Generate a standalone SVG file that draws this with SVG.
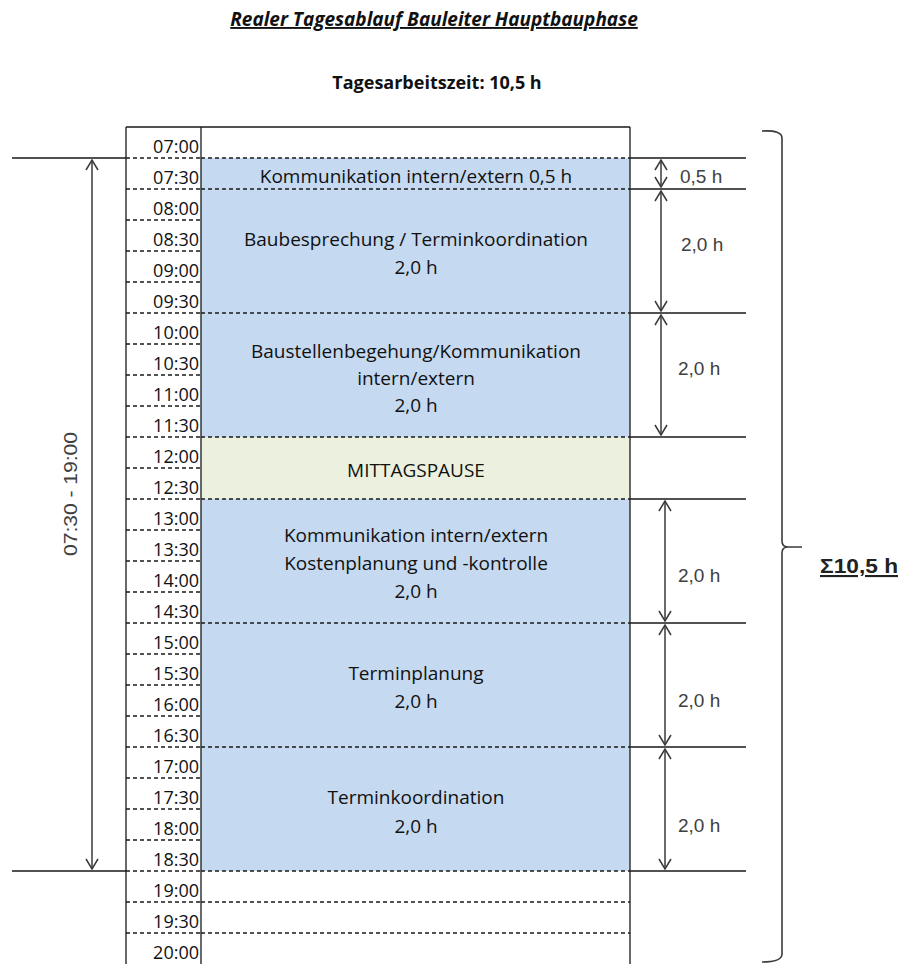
<svg xmlns="http://www.w3.org/2000/svg" width="902" height="964" viewBox="0 0 902 964">
  <defs>
    <style>
      .time { font-family: "Open Sans", "Noto Sans", sans-serif; font-size: 18px; fill: #111; text-anchor: end; }
      .cell { font-family: "Open Sans", "Noto Sans", sans-serif; font-size: 19px; fill: #111; text-anchor: middle; }
      .dim { font-family: "Liberation Sans", Arial, sans-serif; font-size: 19px; fill: #404040; }
      .grid { stroke: #1a1a1a; stroke-width: 1.3; fill: none; }
      .dash { stroke: #1a1a1a; stroke-width: 1.3; stroke-dasharray: 4 3; fill: none; }
      .ext { stroke: #1a1a1a; stroke-width: 1.3; fill: none; }
      .arrow { stroke: #3a3a3a; stroke-width: 1.5; fill: none; marker-start: url(#head); marker-end: url(#head); }
      .blue { fill: #c5d9f1; }
      .green { fill: #ebf1de; }
    </style>
    <marker id="head" viewBox="0 0 12 14" refX="11" refY="7" markerWidth="12" markerHeight="14" markerUnits="userSpaceOnUse" orient="auto-start-reverse">
      <path d="M1,1 L11,7 L1,13" fill="none" stroke="#3a3a3a" stroke-width="1.5"/>
    </marker>
  </defs>

  <rect width="902" height="964" fill="#ffffff"/>

  <!-- headings -->
  <g id="title">
    <text x="434" y="26" font-family="'Open Sans', 'Noto Sans', sans-serif" font-size="19" font-weight="bold" font-style="italic" fill="#111" text-anchor="middle" text-decoration="underline">Realer Tagesablauf Bauleiter Hauptbauphase</text>
    <text x="437" y="89" font-family="'Open Sans', 'Noto Sans', sans-serif" font-size="18" font-weight="bold" fill="#111" text-anchor="middle">Tagesarbeitszeit: 10,5 h</text>
  </g>

  <!-- activity blocks -->
  <g id="block-kommunikation-0730">
    <rect class="blue" x="201" y="158" width="429" height="31"/>
    <text class="cell" x="416" y="183">Kommunikation intern/extern 0,5 h</text>
  </g>
  <g id="block-baubesprechung">
    <rect class="blue" x="201" y="189" width="429" height="124"/>
    <text class="cell" x="416" y="246">Baubesprechung / Terminkoordination</text>
    <text class="cell" x="416" y="274">2,0 h</text>
  </g>
  <g id="block-baustellenbegehung">
    <rect class="blue" x="201" y="313" width="429" height="124"/>
    <text class="cell" x="416" y="358">Baustellenbegehung/Kommunikation</text>
    <text class="cell" x="416" y="385">intern/extern</text>
    <text class="cell" x="416" y="412">2,0 h</text>
  </g>
  <g id="block-mittagspause">
    <rect class="green" x="201" y="437" width="429" height="62"/>
    <text class="cell" x="416" y="477">MITTAGSPAUSE</text>
  </g>
  <g id="block-kostenplanung">
    <rect class="blue" x="201" y="499" width="429" height="124"/>
    <text class="cell" x="416" y="542">Kommunikation intern/extern</text>
    <text class="cell" x="416" y="570">Kostenplanung und -kontrolle</text>
    <text class="cell" x="416" y="598">2,0 h</text>
  </g>
  <g id="block-terminplanung">
    <rect class="blue" x="201" y="623" width="429" height="124"/>
    <text class="cell" x="416" y="680">Terminplanung</text>
    <text class="cell" x="416" y="708">2,0 h</text>
  </g>
  <g id="block-terminkoordination">
    <rect class="blue" x="201" y="747" width="429" height="124"/>
    <text class="cell" x="416" y="804">Terminkoordination</text>
    <text class="cell" x="416" y="833">2,0 h</text>
  </g>

  <!-- time column -->
  <g id="time-column">
    <text class="time" x="199" y="153">07:00</text>
    <text class="time" x="199" y="184">07:30</text>
    <text class="time" x="199" y="215">08:00</text>
    <text class="time" x="199" y="246">08:30</text>
    <text class="time" x="199" y="277">09:00</text>
    <text class="time" x="199" y="308">09:30</text>
    <text class="time" x="199" y="339">10:00</text>
    <text class="time" x="199" y="370">10:30</text>
    <text class="time" x="199" y="401">11:00</text>
    <text class="time" x="199" y="432">11:30</text>
    <text class="time" x="199" y="463">12:00</text>
    <text class="time" x="199" y="494">12:30</text>
    <text class="time" x="199" y="525">13:00</text>
    <text class="time" x="199" y="556">13:30</text>
    <text class="time" x="199" y="587">14:00</text>
    <text class="time" x="199" y="618">14:30</text>
    <text class="time" x="199" y="649">15:00</text>
    <text class="time" x="199" y="680">15:30</text>
    <text class="time" x="199" y="711">16:00</text>
    <text class="time" x="199" y="742">16:30</text>
    <text class="time" x="199" y="773">17:00</text>
    <text class="time" x="199" y="804">17:30</text>
    <text class="time" x="199" y="835">18:00</text>
    <text class="time" x="199" y="866">18:30</text>
    <text class="time" x="199" y="897">19:00</text>
    <text class="time" x="199" y="928">19:30</text>
    <text class="time" x="199" y="959">20:00</text>
  </g>

  <!-- table grid -->
  <g id="grid">
    <!-- half-hour separators in the time column -->
    <path class="dash" d="M126,158H201 M126,189H201 M126,220H201 M126,251H201 M126,282H201 M126,313H201 M126,344H201 M126,375H201 M126,406H201 M126,437H201 M126,468H201 M126,499H201 M126,530H201 M126,561H201 M126,592H201 M126,623H201 M126,654H201 M126,685H201 M126,716H201 M126,747H201 M126,778H201 M126,809H201 M126,840H201 M126,871H201 M126,902H201 M126,933H201"/>
    <!-- block separators across the activity column -->
    <path class="dash" d="M201,158H630 M201,189H630 M201,313H630 M201,437H630 M201,499H630 M201,623H630 M201,747H630 M201,871H630 M201,902H630 M201,933H630"/>
    <path class="grid" d="M126,127H630 M126,127V964 M201,127V964 M630,127V964"/>
  </g>

  <!-- dimension lines and arrows -->
  <g id="connectors">
    <path class="ext" d="M12,158H126 M12,871H126"/>
    <path class="ext" d="M630,158H746 M630,189H746 M630,313H746 M630,437H746 M630,499H746 M630,623H746 M630,747H746 M630,871H746"/>
    <line class="arrow" x1="92" y1="160" x2="92" y2="869"/>
    <line class="arrow" x1="661" y1="160" x2="661" y2="187"/>
    <line class="arrow" x1="661" y1="191" x2="661" y2="311"/>
    <line class="arrow" x1="661" y1="315" x2="661" y2="435"/>
    <line class="arrow" x1="665" y1="501" x2="665" y2="621"/>
    <line class="arrow" x1="665" y1="625" x2="665" y2="745"/>
    <line class="arrow" x1="665" y1="749" x2="665" y2="869"/>
    <!-- curly brace spanning the whole day -->
    <path d="M762,131 Q782,130 782,138 V541 Q782,547 788,547 H802 M788,547 Q782,547 782,553 V954 Q782,962 762,962" fill="none" stroke="#3a3a3a" stroke-width="1.6"/>
  </g>

  <!-- dimension labels -->
  <g id="labels">
    <text class="dim" transform="translate(77,494) rotate(-90)" text-anchor="middle" textLength="124" lengthAdjust="spacingAndGlyphs">07:30 - 19:00</text>
    <text class="dim" x="680" y="183">0,5 h</text>
    <text class="dim" x="681" y="251">2,0 h</text>
    <text class="dim" x="678" y="375">2,0 h</text>
    <text class="dim" x="678" y="582">2,0 h</text>
    <text class="dim" x="678" y="707">2,0 h</text>
    <text class="dim" x="678" y="832">2,0 h</text>
  </g>

  <g id="total">
    <text x="820" y="573" font-family="'Liberation Sans', Arial, sans-serif" font-size="21" font-weight="bold" fill="#222" text-decoration="underline" textLength="78" lengthAdjust="spacingAndGlyphs">Σ10,5 h</text>
  </g>
</svg>
